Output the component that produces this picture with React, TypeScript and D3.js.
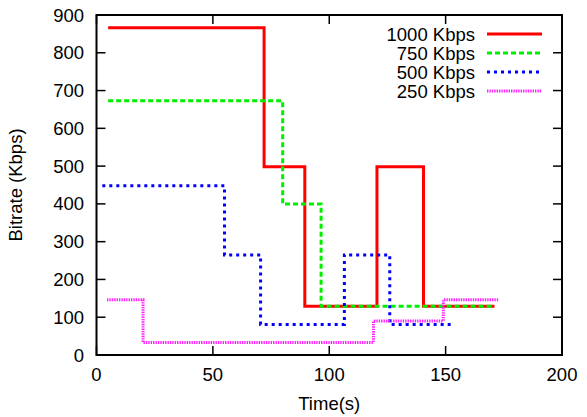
import React from "react";
import * as d3 from "d3";

// Step series: time (s) where each level starts, and the bitrate (Kbps) held from it
const redTimes = [5, 72, 89.5, 120.5, 140.5, 171];
const redValues = [866, 498, 129, 498, 129, 129];
const greenTimes = [5, 80, 96.5, 171];
const greenValues = [673, 400, 129, 129];
const blueTimes = [2.5, 55, 70.5, 106.5, 126, 152.5];
const blueValues = [448, 265, 81, 265, 81, 81];
const magentaTimes = [4.5, 20, 119, 149, 173];
const magentaValues = [146, 33, 90, 146, 146];

const seriesNames = ["1000 Kbps", "750 Kbps", "500 Kbps", "250 Kbps"];
const xTicks = [0, 50, 100, 150, 200];
const yTicks = [0, 100, 200, 300, 400, 500, 600, 700, 800, 900];

const W = 587;
const H = 417;
const left = 96.5;
const right = 562;
const top = 15;
const bottom = 355;
const font = "'Liberation Sans', Arial, Helvetica, sans-serif";
const fs = 18.5;

const styles = [
  { color: "#ff0000", dash: "none" },
  { color: "#00ee00", dash: "5,3" },
  { color: "#0000ff", dash: "3,4" },
  { color: "#ff22ff", dash: "1.4,1" },
];

export default function App() {
  const x = d3.scaleLinear().domain([0, 200]).range([left, right]);
  const y = d3.scaleLinear().domain([0, 900]).range([bottom, top]);
  const line = d3
    .line<[number, number]>()
    .x((d) => x(d[0]))
    .y((d) => y(d[1]))
    .curve(d3.curveStepAfter);

  const series = [
    [redTimes, redValues],
    [greenTimes, greenValues],
    [blueTimes, blueValues],
    [magentaTimes, magentaValues],
  ].map(([t, v]) => t.map((tt, i) => [tt, v[i]] as [number, number]));

  const tickLen = 9;
  const legendY = [34, 53, 72, 91];

  return (
    <svg
      width={W}
      height={H}
      style={{ position: "absolute", left: 0, top: 0, background: "#fff" }}
      fontFamily={font}
    >
      {series.map((pts, i) => (
        <path
          key={i}
          d={line(pts) || ""}
          fill="none"
          stroke={styles[i].color}
          strokeWidth={3}
          strokeDasharray={styles[i].dash}
        />
      ))}

      {/* ticks, mirrored on all four sides */}
      {xTicks.map((t) => (
        <g key={"x" + t} stroke="#000" strokeWidth={1.5}>
          <line x1={x(t)} x2={x(t)} y1={bottom} y2={bottom - tickLen} />
          <line x1={x(t)} x2={x(t)} y1={top} y2={top + tickLen} />
        </g>
      ))}
      {yTicks.map((t) => (
        <g key={"y" + t} stroke="#000" strokeWidth={1.5}>
          <line x1={left} x2={left + tickLen} y1={y(t)} y2={y(t)} />
          <line x1={right} x2={right - tickLen} y1={y(t)} y2={y(t)} />
        </g>
      ))}

      <rect
        x={left}
        y={top}
        width={right - left}
        height={bottom - top}
        fill="none"
        stroke="#000"
        strokeWidth={2}
      />

      {xTicks.map((t) => (
        <text key={"xl" + t} x={x(t)} y={381} textAnchor="middle" fontSize={fs} fill="#000">
          {t}
        </text>
      ))}
      {yTicks.map((t) => (
        <text key={"yl" + t} x={84} y={y(t) + 6.5} textAnchor="end" fontSize={fs} fill="#000">
          {t}
        </text>
      ))}

      <text x={(left + right) / 2} y={410} textAnchor="middle" fontSize={fs} fill="#000">
        Time(s)
      </text>
      <text
        transform={`translate(22,${(top + bottom) / 2}) rotate(-90)`}
        textAnchor="middle"
        fontSize={fs}
        fill="#000"
      >
        Bitrate (Kbps)
      </text>

      {seriesNames.map((name, i) => (
        <g key={name}>
          <text x={475} y={legendY[i] + 6.5} textAnchor="end" fontSize={fs} fill="#000">
            {name}
          </text>
          <line
            x1={487}
            x2={542}
            y1={legendY[i]}
            y2={legendY[i]}
            stroke={styles[i].color}
            strokeWidth={3}
            strokeDasharray={styles[i].dash}
          />
        </g>
      ))}
    </svg>
  );
}
